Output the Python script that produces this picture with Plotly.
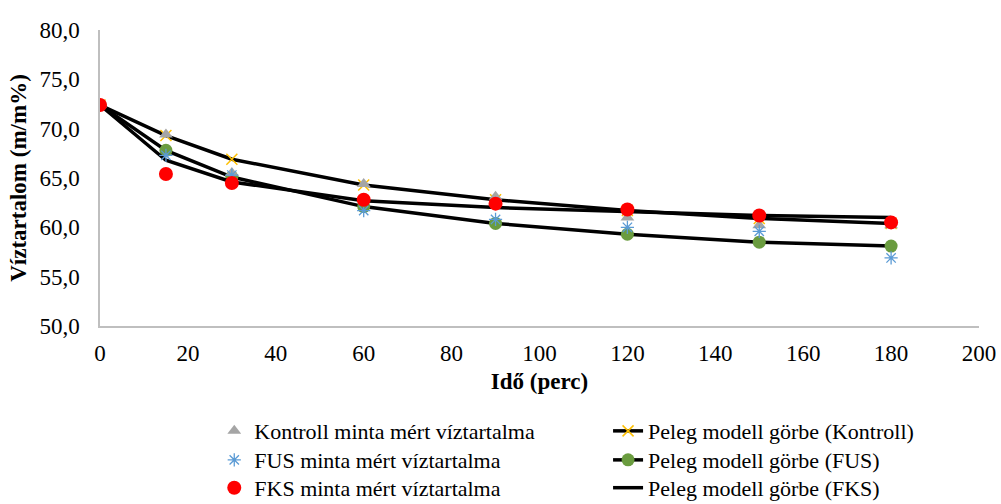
import plotly.graph_objects as go

# Drying time (minutes)
ido = [0, 15, 30, 60, 90, 120, 150, 180]

# Measured moisture content (m/m%)
kontroll_mert = [72.4, 69.4, 65.5, 64.4, 63.1, 61.0, 60.2, 60.2]
fus_mert = [72.4, 67.3, 65.3, 61.7, 60.8, 60.0, 59.6, 56.9]
fks_mert = [72.4, 65.4, 64.5, 62.8, 62.4, 61.8, 61.2, 60.5]

# Peleg model curves
peleg_kontroll = [72.4, 69.3, 66.9, 64.3, 62.8, 61.7, 60.9, 60.4]
peleg_fus = [72.4, 67.8, 65.1, 62.1, 60.4, 59.3, 58.5, 58.1]
peleg_fks = [72.4, 66.8, 64.6, 62.7, 62.0, 61.6, 61.2, 61.0]

x_ticks = [0, 20, 40, 60, 80, 100, 120, 140, 160, 180, 200]
y_ticks = [50, 55, 60, 65, 70, 75, 80]

FONT = "Liberation Serif"
FS = 23
LEGEND_FS = 22
LINE_W = 3.5

fig = go.Figure()

# model curves drawn first so the measured points sit on top
fig.add_trace(go.Scatter(
    x=ido, y=peleg_kontroll, mode="lines+markers",
    name="Peleg modell görbe (Kontroll)", legend="legend2",
    line=dict(color="black", width=LINE_W),
    marker=dict(symbol="x-thin-open", size=11, color="#FFC000",
                line=dict(color="#FFC000", width=1.5)),
))
fig.add_trace(go.Scatter(
    x=ido, y=peleg_fus, mode="lines+markers",
    name="Peleg modell görbe (FUS)", legend="legend4",
    line=dict(color="black", width=LINE_W),
    marker=dict(symbol="circle", size=13, color="#6A9C3F"),
))
fig.add_trace(go.Scatter(
    x=ido, y=peleg_fks, mode="lines",
    name="Peleg modell görbe (FKS)", legend="legend6",
    line=dict(color="black", width=LINE_W),
))

fig.add_trace(go.Scatter(
    x=ido, y=kontroll_mert, mode="markers",
    name="Kontroll minta mért víztartalma", legend="legend",
    marker=dict(symbol="triangle-up", size=12, color="#A5A5A5"),
))
fig.add_trace(go.Scatter(
    x=ido, y=fus_mert, mode="markers",
    name="FUS minta mért víztartalma", legend="legend3",
    marker=dict(symbol="asterisk-open", size=11, color="#5B9BD5",
                line=dict(color="#5B9BD5", width=1.3)),
))
fig.add_trace(go.Scatter(
    x=ido, y=fks_mert, mode="markers",
    name="FKS minta mért víztartalma", legend="legend5",
    marker=dict(symbol="circle", size=14, color="#FF0000"),
))

legend_style = dict(
    orientation="v", yanchor="top", xanchor="left",
    font=dict(family=FONT, size=LEGEND_FS, color="black"),
    itemwidth=30, bgcolor="rgba(0,0,0,0)",
)

# legend grid: two columns, three rows
col_x = [0.130, 0.578]
row_y = [-0.284, -0.382, -0.476]

fig.update_layout(
    width=1001, height=504,
    paper_bgcolor="white", plot_bgcolor="white",
    margin=dict(l=100, r=22, t=30, b=178, autoexpand=False),
    separators=", ",
    font=dict(family=FONT, size=FS, color="black"),
    showlegend=True,
    legend=dict(x=col_x[0], y=row_y[0], **legend_style),
    legend2=dict(x=col_x[1], y=row_y[0], **legend_style),
    legend3=dict(x=col_x[0], y=row_y[1], **legend_style),
    legend4=dict(x=col_x[1], y=row_y[1], **legend_style),
    legend5=dict(x=col_x[0], y=row_y[2], **legend_style),
    legend6=dict(x=col_x[1], y=row_y[2], **legend_style),
)

fig.update_xaxes(
    range=[0, 200], tickvals=x_ticks,
    ticks="outside", ticklen=6, tickcolor="rgba(0,0,0,0)",
    showgrid=False, zeroline=False,
    showline=True, linecolor="#BFBFBF", linewidth=1.5,
    tickfont=dict(family=FONT, size=FS),
    title=dict(text="<b>Idő (perc)</b>", font=dict(family=FONT, size=FS), standoff=8),
)
fig.update_yaxes(
    range=[50, 80], tickvals=y_ticks, tickformat=".1f",
    ticks="outside", ticklen=14, tickcolor="rgba(0,0,0,0)",
    showgrid=False, zeroline=False,
    showline=True, linecolor="#BFBFBF", linewidth=1.5,
    tickfont=dict(family=FONT, size=FS),
    title=dict(text="<b>Víztartalom (m/m%)</b>", font=dict(family=FONT, size=FS), standoff=6),
)

fig.write_html("out.html")
